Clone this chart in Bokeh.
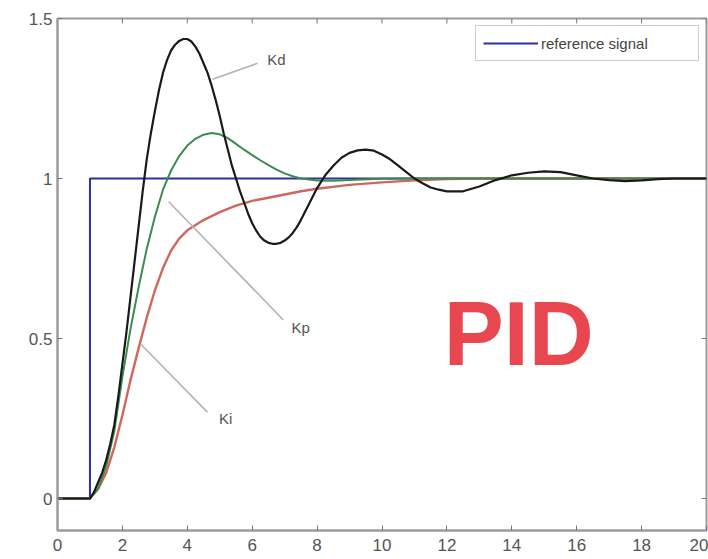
import math
from bokeh.plotting import figure
from bokeh.models import Legend, LegendItem, FixedTicker
from bokeh.core.properties import value
from bokeh.embed import file_html
from bokeh.resources import INLINE

# ---------------- data ----------------
x_min, x_max = 0, 20
y_min, y_max = -0.1, 1.5

ref_x = [0, 1, 1, 20]
ref_y = [0, 0, 1, 1]

kd_x = [0, 1.0, 1.125, 1.25, 1.375, 1.5, 1.625, 1.75, 1.875, 2.0, 2.125, 2.25, 2.375, 2.5, 2.625,
        2.75, 2.875, 3.0, 3.125, 3.25, 3.375, 3.5, 3.625, 3.75, 3.875, 4.0, 4.125, 4.25, 4.375,
        4.5, 4.625, 4.75, 4.875, 5.0, 5.125, 5.25, 5.375, 5.5, 5.625, 5.75, 5.875, 6.0, 6.125,
        6.25, 6.375, 6.5, 6.625, 6.75, 6.875, 7.0, 7.125, 7.25, 7.375, 7.5, 7.625, 7.75, 7.875,
        8.0, 8.25, 8.5, 8.75, 9.0, 9.25, 9.5, 9.75, 10.0, 10.25, 10.5, 10.75, 11.0, 11.25, 11.5,
        11.75, 12.0, 12.5, 13.0, 13.5, 14.0, 14.5, 15.0, 15.5, 16.0, 16.5, 17.0, 17.5, 18.0,
        18.5, 19.0, 20.0]
kd_y = [0, 0.0, 0.02, 0.05, 0.08, 0.12, 0.17, 0.23, 0.32, 0.42, 0.52, 0.63, 0.74, 0.85, 0.96,
        1.06, 1.14, 1.21, 1.275, 1.33, 1.37, 1.40, 1.418, 1.43, 1.436, 1.436, 1.428, 1.412, 1.39,
        1.36, 1.33, 1.29, 1.245, 1.195, 1.14, 1.09, 1.04, 1.0, 0.96, 0.925, 0.89, 0.86, 0.837,
        0.818, 0.806, 0.799, 0.796, 0.796, 0.799, 0.806, 0.816, 0.83, 0.848, 0.87, 0.895, 0.92, 0.945,
        0.97, 1.01, 1.04, 1.065, 1.08, 1.088, 1.09, 1.087, 1.075, 1.06, 1.04, 1.02, 1.0, 0.985, 0.972,
        0.965, 0.96, 0.96, 0.975, 0.995, 1.01, 1.018, 1.022, 1.02, 1.01, 1.0, 0.995, 0.992, 0.994,
        0.998, 1.0, 1.0]

kp_x = [0, 1.0, 1.25, 1.5, 1.75, 2.0, 2.25, 2.5, 2.75, 3.0, 3.25, 3.5, 3.75, 4.0, 4.25, 4.5,
        4.75, 5.0, 5.25, 5.5, 5.75, 6.0, 6.25, 6.5, 6.75, 7.0, 7.25, 7.5, 8.0, 8.5, 9.0, 10.0, 11.0, 20.0]
kp_y = [0, 0.0, 0.03, 0.10, 0.21, 0.38, 0.53, 0.66, 0.78, 0.88, 0.965, 1.025, 1.07, 1.103, 1.124, 1.137,
        1.142, 1.138, 1.126, 1.108, 1.09, 1.073, 1.057, 1.042, 1.028, 1.016, 1.007, 1.0, 0.994, 0.993,
        0.995, 0.999, 1.0, 1.0]

ki_x = [0, 1.0, 1.25, 1.5, 1.75, 2.0, 2.25, 2.5, 2.75, 3.0, 3.25, 3.5, 3.75, 4.0, 4.5, 5.0, 5.5,
        6.0, 6.5, 7.0, 7.5, 8.0, 9.0, 10.0, 11.0, 12.0, 13.0, 20.0]
ki_y = [0, 0.0, 0.03, 0.08, 0.16, 0.26, 0.37, 0.47, 0.565, 0.65, 0.72, 0.775, 0.812, 0.838, 0.87, 0.895,
        0.915, 0.93, 0.94, 0.95, 0.96, 0.968, 0.98, 0.988, 0.994, 0.998, 1.0, 1.0]

# annotation labels and their leader lines (data coordinates)
ann_text = ["Kd", "Kp", "Ki"]
ann_text_x = [6.75, 7.49, 5.18]
ann_text_y = [1.373, 0.533, 0.25]
ann_x0 = [4.78, 3.42, 2.56]
ann_y0 = [1.31, 0.928, 0.483]
ann_x1 = [6.16, 6.96, 4.62]
ann_y1 = [1.36, 0.558, 0.27]

x_ticks = [0, 2, 4, 6, 8, 10, 12, 14, 16, 18, 20]
x_tick_labels = ["0", "2", "4", "6", "8", "10", "12", "14", "16", "18", "20"]
y_ticks = [0, 0.5, 1, 1.5]
y_tick_labels = ["0", "0.5", "1", "1.5"]

legend_label = "reference signal"
big_text = "PID"
big_x = [11.9]
big_y = [0.514]

# ---------------- figure ----------------
AX = "#9c9c9c"
TICK = "#777777"
FONT = "Liberation Sans"

p = figure(width=708, height=559, x_range=(x_min, x_max), y_range=(y_min, y_max),
           output_backend="svg", toolbar_location=None,
           min_border_left=57, min_border_right=2, min_border_top=18, min_border_bottom=29)
p.grid.visible = False
p.background_fill_color = "white"
p.border_fill_color = "white"
p.outline_line_color = AX
p.outline_line_width = 2

for ax, ticks, labels, standoff in ((p.xaxis[0], x_ticks, x_tick_labels, 8),
                                    (p.yaxis[0], y_ticks, y_tick_labels, 5)):
    ax.ticker = FixedTicker(ticks=ticks)
    ax.major_label_overrides = {t: l for t, l in zip(ticks, labels)}
    ax.axis_line_color = AX
    ax.axis_line_width = 2
    ax.major_tick_line_color = TICK
    ax.major_tick_in = 5
    ax.major_tick_out = 0
    ax.minor_tick_line_color = None
    ax.major_label_text_font = FONT
    ax.major_label_text_font_size = "17px"
    ax.major_label_text_color = "#555555"
    ax.major_label_standoff = standoff

# ticks on the top and right edges of the box (half of each dash is clipped by the frame)
p.scatter(x=x_ticks, y=[y_max] * len(x_ticks), marker="dash", angle=math.pi / 2, size=10,
          line_color=TICK, line_width=1)
p.scatter(x=[x_max] * len(y_ticks), y=y_ticks, marker="dash", size=10,
          line_color=TICK, line_width=1)

# curves
r_ref = p.line(ref_x, ref_y, line_color="#2e2e9c", line_width=2)
p.line(ki_x, ki_y, line_color="#d0675f", line_width=2.4)
p.line(kp_x, kp_y, line_color="#3b8c4e", line_width=2)
p.line(kd_x, kd_y, line_color="#1a1a1a", line_width=2.2)

# annotations
p.segment(x0=ann_x0, y0=ann_y0, x1=ann_x1, y1=ann_y1, line_color="#b3b3b3", line_width=1.6)
p.text(x=ann_text_x, y=ann_text_y, text=ann_text, text_font=value(FONT),
       text_font_size="15px", text_color="#555555", text_align="center", text_baseline="middle")

p.text(x=big_x, y=big_y, text=[big_text], text_font=value(FONT),
       text_font_style="bold", text_font_size="90px", text_color="#e8474f",
       text_align="left", text_baseline="alphabetic")

legend = Legend(items=[LegendItem(label=legend_label, renderers=[r_ref])],
                location="top_right", margin=7, padding=7, spacing=0,
                glyph_width=55, glyph_height=20, label_height=20, label_width=150,
                label_standoff=3, label_text_font_size="15px", label_text_color="#444444",
                label_text_font=FONT,
                border_line_color="#9c9c9c", border_line_width=1.5,
                background_fill_color="white", background_fill_alpha=1.0)
p.add_layout(legend)

open("out.html", "w").write(file_html(p, INLINE))
